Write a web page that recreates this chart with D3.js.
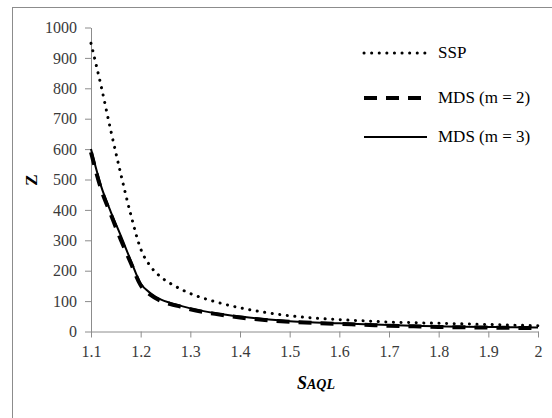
<!DOCTYPE html>
<html>
<script src="https://d3js.org/d3.v7.min.js"></script>
<style>
    body { margin: 0; background: #fff; }
    svg text, .tick text { font-family: "Liberation Serif", "Times New Roman", "DejaVu Serif", serif; }
    .tick text { font-size: 16px; fill: #3a3a3a; }
    .tick line, .domain { stroke: #8c8c8c; }
</style>
<body></body>
<script>
    const saql = [1.10, 1.12, 1.14, 1.16, 1.18, 1.20, 1.22, 1.24, 1.26, 1.28, 1.30, 1.35, 1.40, 1.45,
        1.50, 1.55, 1.60, 1.65, 1.70, 1.75, 1.80, 1.85, 1.90, 1.95, 2.00];
    const ssp = [948, 810, 660, 518, 385, 272, 214, 180, 158, 140, 125, 98, 78, 63,
        52, 44, 39, 35, 31, 29, 27, 25, 23, 21, 19];
    const mds2 = [590, 470, 385, 302, 226, 152, 120, 101, 90, 82, 73, 58, 46, 38,
        32, 28, 25, 22, 19, 17, 15, 14, 13, 12, 11];
    const mds3 = [600, 480, 393, 315, 234, 158, 126, 106, 94, 85, 76, 60, 49, 41,
        34, 30, 27, 24, 21, 19, 17, 16, 15, 14, 13];
    const xTicks = [1.1, 1.2, 1.3, 1.4, 1.5, 1.6, 1.7, 1.8, 1.9, 2];
    const yTicks = [0, 100, 200, 300, 400, 500, 600, 700, 800, 900, 1000];
    const seriesNames = ["SSP", "MDS (m = 2)", "MDS (m = 3)"];

    const width = 552, height = 418;
    const svg = d3.select("body").append("svg").attr("width", width).attr("height", height);

    svg.append("rect")
        .attr("x", 12.5).attr("y", 7.5)
        .attr("width", 560).attr("height", 430)
        .attr("fill", "none").attr("stroke", "#8c8c8c");

    const x = d3.scaleLinear().domain([1.1, 2]).range([91, 538]);
    const y = d3.scaleLinear().domain([0, 1000]).range([331.5, 27.5]);

    svg.append("g")
        .attr("transform", "translate(0,331.5)")
        .call(d3.axisBottom(x).tickValues(xTicks).tickSize(6).tickSizeOuter(0).tickPadding(8)
            .tickFormat(d => String(+d.toFixed(1))));
    svg.append("g")
        .attr("transform", "translate(91,0)")
        .call(d3.axisLeft(y).tickValues(yTicks).tickSize(6).tickSizeOuter(0).tickPadding(8)
            .tickFormat(d3.format("d")));
    svg.selectAll(".tick text").attr("font-family", null);

    const line = d3.line().curve(d3.curveMonotoneX).x((d, i) => x(saql[i])).y(d => y(d));
    const styles = [
        { data: ssp, width: 3, dash: "0.1 7.5", cap: "round" },
        { data: mds2, width: 4, dash: "13 9", cap: "butt" },
        { data: mds3, width: 2, dash: null, cap: "butt" }
    ];
    styles.forEach(s => {
        svg.append("path")
            .attr("d", line(s.data))
            .attr("fill", "none")
            .attr("stroke", "#000")
            .attr("stroke-width", s.width)
            .attr("stroke-dasharray", s.dash)
            .attr("stroke-linecap", s.cap);
    });

    // legend
    const legY = [53, 98, 137];
    styles.forEach((s, i) => {
        svg.append("line")
            .attr("x1", 364).attr("x2", 427)
            .attr("y1", legY[i]).attr("y2", legY[i])
            .attr("stroke", "#000")
            .attr("stroke-width", s.width)
            .attr("stroke-dasharray", s.dash)
            .attr("stroke-linecap", s.cap);
        svg.append("text")
            .attr("x", 438).attr("y", legY[i] + 5)
            .attr("font-size", 17)
            .attr("fill", "#000")
            .text(seriesNames[i]);
    });

    // axis titles
    svg.append("text")
        .attr("transform", "translate(37,180) rotate(-90)")
        .attr("text-anchor", "middle")
        .attr("font-weight", "bold")
        .attr("font-size", 17)
        .text("Z");

    const xt = svg.append("text")
        .attr("x", 316).attr("y", 389)
        .attr("text-anchor", "middle")
        .attr("font-weight", "bold")
        .attr("font-style", "italic");
    xt.append("tspan").attr("font-size", 18).text("S");
    xt.append("tspan").attr("font-size", 14).text("AQL");
</script>
</html>
